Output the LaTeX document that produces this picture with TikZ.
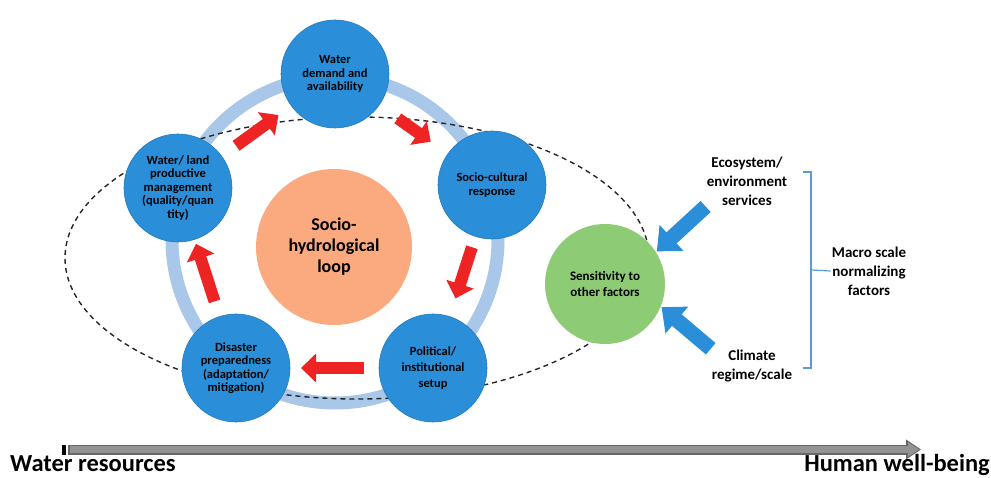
\documentclass[tikz,border=0pt]{standalone}
\usepackage{fontspec}
\setmainfont{Carlito}
\usetikzlibrary{arrows.meta,calc}

\definecolor{loopblue}{HTML}{2A8FD8}
\definecolor{ringblue}{HTML}{A9C7E8}
\definecolor{loopred}{HTML}{EE2424}
\definecolor{loopgreen}{HTML}{8DCB74}
\definecolor{looporange}{HTML}{FBA97E}
\definecolor{bracketblue}{HTML}{5B9BD5}

\tikzset{
  stage/.style={circle, fill=loopblue, draw=loopblue!85!black, line width=0.6pt,
    minimum size=108pt, inner sep=0pt, align=center,
    font=\bfseries\fontsize{12.5}{13.5}\selectfont},
  factor/.style={align=center, inner sep=1pt, font=\bfseries\fontsize{15}{19}\selectfont},
  redarrow/.style={loopred, line width=12pt, -{Triangle[width=28pt,length=15pt]}},
  bluearrow/.style={loopblue, line width=15pt, -{Triangle[width=34pt,length=20pt]}}
}

\begin{document}
\begin{tikzpicture}[x=1pt, y=-1pt]

        \useasboundingbox (0,0) rectangle (991,478);

        %Ring and dashed boundary
        \draw [ringblue, line width=13pt] (335,240) circle [radius=163pt];
        \draw [black!85, line width=1.4pt, dash pattern=on 5pt off 4pt] (357,258) ellipse [x radius=292pt, y radius=141pt];

        %Centre
        \node [circle, fill=looporange, minimum size=156pt, align=center,
          font=\bfseries\fontsize{18}{21}\selectfont] (shloop) at (334,247) {Socio-\\hydrological\\loop};

        %Stages of the loop
        \node [stage] (wdemand) at (335,74) {Water\\demand and\\availability};
        \node [stage] (socio) at (492,185) {Socio-cultural\\response};
        \node [stage, font=\bfseries\fontsize{12.5}{16}\selectfont] (polit) at (433,368) {Political/\\institutional\\setup};
        \node [stage] (disaster) at (236,368) {Disaster\\preparedness\\(adaptation/\\mitigation)};
        \node [stage] (wland) at (178,188) {Water/ land\\productive\\management\\(quality/quan\\tity)};

        %Red arrows
        \draw [redarrow] ($(wland)!.37!(wdemand)$) -- ($(wland)!.64!(wdemand)$);
        \draw [redarrow] ($(wdemand)!.40!(socio)$) -- ($(wdemand)!.61!(socio)$);
        \draw [redarrow] ($(socio)!.34!(polit)$) -- ($(socio)!.62!(polit)$);
        \draw [redarrow] ($(polit)!.35!(disaster)$) -- ($(polit)!.67!(disaster)$);
        \draw [redarrow] ($(disaster)!.37!(wland)$) -- ($(disaster)!.69!(wland)$);

        %Sensitivity
        \node [circle, fill=loopgreen, minimum size=120pt, align=center,
          font=\bfseries\fontsize{13}{16}\selectfont] (sens) at (605,284) {Sensitivity to\\other factors};

        %Macro scale factors
        \node [factor] (eco) at (747,181) {Ecosystem/\\environment\\services};
        \node [factor] (climate) at (752,366) {Climate\\regime/scale};
        \node [factor] (macro) at (869,271) {Macro scale\\normalizing\\factors};
        \draw [bluearrow, shorten >=1pt] (eco.south west) -- (sens.32);
        \draw [bluearrow, shorten >=1pt] (climate.north west) -- (sens.-22);

        %Bracket
        \draw [bracketblue, line width=1.2pt] (803,172) -- (811,172) -- (811,368) -- (803,368);
        \draw [bracketblue, line width=1.2pt] (811,270) -- (macro.west);

        %Axis
        \coordinate (wstart) at (68,449.5);
        \coordinate (hend) at (921,449.5);
        \draw [black!60, line width=10pt, -{Triangle[width=19pt,length=15pt]}] (wstart) -- (hend);
        \draw [gray!85, line width=7pt, shorten <=1.5pt, shorten >=2pt, -{Triangle[width=14pt,length=11pt]}] (wstart) -- (hend);
        \draw [black, line width=4pt] (64,444.5) -- (64,454.5);
        \node [anchor=base west, inner sep=0pt, font=\bfseries\fontsize{24.5}{27}\selectfont] (water) at (10,471) {Water resources};
        \node [anchor=base east, inner sep=0pt, font=\bfseries\fontsize{24.5}{27}\selectfont] (human) at (990,471) {Human well-being};

      \end{tikzpicture}
\end{document}
